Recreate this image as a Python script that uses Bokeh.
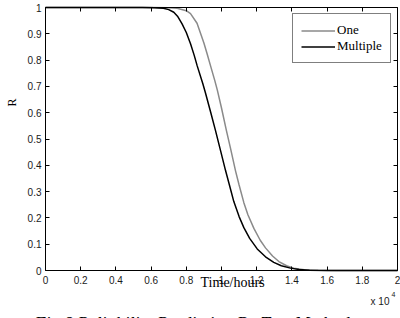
from bokeh.plotting import figure
from bokeh.models import (Range1d, LinearAxis, FixedTicker, Label, Legend,
                          LegendItem, NumeralTickFormatter)
from bokeh.embed import file_html
from bokeh.resources import INLINE
import math

# Time in units of 10^4 hours, reliability R
time_one = [0.0, 0.60, 0.70, 0.748, 0.80, 0.824, 0.861, 0.90, 0.919, 0.937,
            0.962, 0.976, 1.00, 1.028, 1.05, 1.08, 1.10, 1.127, 1.15, 1.184,
            1.22, 1.25, 1.29, 1.326, 1.37, 1.41, 1.47, 1.55, 1.65, 2.0]
r_one = [1.0, 1.0, 0.9995, 0.997, 0.988, 0.977, 0.940, 0.865, 0.822, 0.780,
         0.722, 0.687, 0.618, 0.532, 0.468, 0.378, 0.325, 0.258, 0.212, 0.160,
         0.115, 0.086, 0.055, 0.034, 0.018, 0.009, 0.003, 0.001, 0.0, 0.0]

time_multiple = [0.0, 0.55, 0.62, 0.67, 0.70, 0.729, 0.75, 0.776, 0.80, 0.824,
                 0.845, 0.862, 0.894, 0.909, 0.94, 0.966, 0.995, 1.023, 1.045,
                 1.070, 1.10, 1.127, 1.16, 1.203, 1.25, 1.297, 1.34, 1.392,
                 1.44, 1.50, 1.60, 2.0]
r_multiple = [1.0, 1.0, 0.9995, 0.997, 0.992, 0.982, 0.967, 0.938, 0.905, 0.862,
              0.818, 0.778, 0.710, 0.675, 0.598, 0.532, 0.455, 0.380, 0.325,
              0.262, 0.205, 0.163, 0.122, 0.082, 0.052, 0.031, 0.018, 0.009,
              0.004, 0.001, 0.0, 0.0]

x_ticks = [0, 0.2, 0.4, 0.6, 0.8, 1, 1.2, 1.4, 1.6, 1.8, 2]
x_tick_labels = ["0", "0.2", "0.4", "0.6", "0.8", "1", "1.2", "1.4", "1.6", "1.8", "2"]
y_ticks = [0, 0.1, 0.2, 0.3, 0.4, 0.5, 0.6, 0.7, 0.8, 0.9, 1]
y_tick_labels = ["0", "0.1", "0.2", "0.3", "0.4", "0.5", "0.6", "0.7", "0.8", "0.9", "1"]

series_names = ["One", "Multiple"]

# Canvas-wide frame; the axes box (0..2 x 0..1) sits at pixels 45..397 x 7..270
PX_PER_X = 176.0
PX_PER_Y = 263.0
p = figure(width=400, height=318, output_backend="svg", toolbar_location=None,
           x_range=Range1d(-45 / PX_PER_X, 355 / PX_PER_X),
           y_range=Range1d(-48 / PX_PER_Y, 270 / PX_PER_Y),
           min_border_left=0, min_border_right=0, min_border_top=0,
           min_border_bottom=0)
p.background_fill_color = "white"
p.border_fill_color = "white"
p.outline_line_color = None
p.xgrid.visible = False
p.ygrid.visible = False

tick_font = "Liberation Sans"


def style_axis(ax, ticks, labels, show_labels, standoff, loc, bounds):
    ax.fixed_location = loc
    ax.bounds = bounds
    ax.ticker = FixedTicker(ticks=ticks)
    ax.formatter = NumeralTickFormatter(format="0.[0]")
    ax.major_label_overrides = dict(zip(ticks, labels))
    ax.major_tick_in = 4
    ax.major_tick_out = 0
    ax.minor_tick_in = 0
    ax.minor_tick_out = 0
    ax.axis_line_color = "black"
    ax.axis_line_width = 1
    ax.major_tick_line_color = "black"
    ax.major_label_text_font = tick_font
    ax.major_label_text_color = "#1a1a1a"
    ax.major_label_standoff = standoff
    if show_labels:
        ax.major_label_text_font_size = "10px"
    else:
        ax.major_label_text_font_size = "0px"
        ax.major_label_standoff = 0


style_axis(p.xaxis[0], x_ticks, x_tick_labels, True, 5, 0, (0, 2))
style_axis(p.yaxis[0], y_ticks, y_tick_labels, True, 4, 0, (0, 1))

top_axis = LinearAxis()
style_axis(top_axis, x_ticks, x_tick_labels, False, 0, 1, (0, 2))
p.add_layout(top_axis, "above")
right_axis = LinearAxis()
style_axis(right_axis, y_ticks, y_tick_labels, False, 0, 2, (0, 1))
p.add_layout(right_axis, "right")

r1 = p.line(time_one, r_one, line_color="#8a8a8a", line_width=1.5)
r2 = p.line(time_multiple, r_multiple, line_color="black", line_width=1.5)

legend = Legend(items=[LegendItem(label=series_names[0], renderers=[r1]),
                       LegendItem(label=series_names[1], renderers=[r2])],
                location=(292, 255))
legend.label_text_font = "Liberation Serif"
legend.label_text_font_size = "13px"
legend.label_text_color = "black"
legend.glyph_width = 34
legend.glyph_height = 15
legend.label_height = 15
legend.label_standoff = 2
legend.spacing = 0
legend.padding = 8
legend.margin = 0
legend.border_line_color = "black"
legend.border_line_width = 1
legend.background_fill_color = "white"
legend.background_fill_alpha = 1
p.add_layout(legend)

serif = "Liberation Serif"
# text positions in data units (x: 10^4 h, y: R)
p.add_layout(Label(x=-0.193, y=0.639, text="R",
                   angle=math.pi / 2, text_font=serif, text_font_size="12px",
                   text_align="center", text_baseline="middle", text_color="black"))
p.add_layout(Label(x=0.881, y=-0.046,
                   text="Time/hours", text_font=serif, text_font_size="14px",
                   text_align="left", text_baseline="alphabetic", text_color="black"))
p.add_layout(Label(x=1.847, y=-0.118,
                   text="x 10", text_font=tick_font, text_font_size="10px",
                   text_align="left", text_baseline="alphabetic", text_color="#1a1a1a"))
p.add_layout(Label(x=1.966, y=-0.091,
                   text="4", text_font=tick_font, text_font_size="7px",
                   text_align="left", text_baseline="alphabetic", text_color="#1a1a1a"))
p.add_layout(Label(x=0.852, y=-0.204,
                   text="Fig.8 Reliability Prediction By Two Methods",
                   text_font=serif, text_font_size="18px", text_font_style="italic",
                   text_align="center", text_baseline="alphabetic", text_color="black"))

open("out.html", "w").write(file_html(p, INLINE))
